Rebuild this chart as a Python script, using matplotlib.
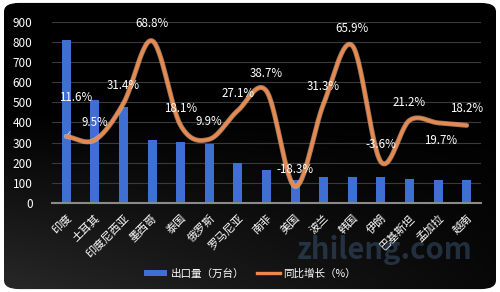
import numpy as np
import matplotlib
matplotlib.use("Agg")
import matplotlib.pyplot as plt
from matplotlib.patches import FancyBboxPatch, Patch
from matplotlib.lines import Line2D

plt.rcParams['font.family'] = ['Noto Sans CJK SC', 'DejaVu Sans']

# ------------------------
# Data
# ------------------------
countries = ["印度", "土耳其", "印度尼西亚", "墨西哥", "泰国", "俄罗斯", "罗马尼亚",
             "南非", "美国", "波兰", "韩国", "伊朗", "巴基斯坦", "孟加拉", "越南"]
exports = [810, 512, 478, 315, 302, 293, 200, 163, 112, 130, 130, 127, 121, 113, 112]
growth = [11.6, 9.5, 31.4, 68.8, 18.1, 9.9, 27.1, 38.7, -18.3, 31.3, 65.9, -3.6, 21.2, 19.7, 18.2]

BAR_COLOR = "#3F6FD2"
LINE_COLOR = "#E8894F"


def catmull_rom(x, y, n=30):
    """Smooth curve through the points (like a spreadsheet 'smoothed line')."""
    x = np.asarray(x, float)
    y = np.asarray(y, float)
    px = np.concatenate([[2 * x[0] - x[1]], x, [2 * x[-1] - x[-2]]])
    py = np.concatenate([[2 * y[0] - y[1]], y, [2 * y[-1] - y[-2]]])
    xs, ys = [], []
    t = np.linspace(0, 1, n, endpoint=False)
    for i in range(1, len(px) - 2):
        for arr, out in ((px, xs), (py, ys)):
            p0, p1, p2, p3 = arr[i - 1], arr[i], arr[i + 1], arr[i + 2]
            out.extend(0.5 * ((2 * p1) + (-p0 + p2) * t
                              + (2 * p0 - 5 * p1 + 4 * p2 - p3) * t ** 2
                              + (-p0 + 3 * p1 - 3 * p2 + p3) * t ** 3))
    xs.append(x[-1])
    ys.append(y[-1])
    return np.array(xs), np.array(ys)


fig = plt.figure(figsize=(5, 2.92), dpi=100)
fig.patch.set_facecolor("white")

# rounded dark card with a soft gradient
bg = fig.add_axes([0, 0, 1, 1], zorder=-5)
bg.set_axis_off()
bg.set_xlim(0, 1)
bg.set_ylim(0, 1)
gy, gx = np.mgrid[0:1:200j, 0:1:200j]
shade = 0.16 * np.clip(1 - gy * 1.6, 0, 1) * np.clip(1 - gx * 0.8, 0, 1)
img = bg.imshow(np.dstack([shade, shade, shade]), extent=[0, 1, 0, 1],
                origin="lower", aspect="auto")
card = FancyBboxPatch((0.008, 0.01), 0.984, 0.98,
                      boxstyle="round,pad=0,rounding_size=0.03",
                      transform=bg.transAxes, facecolor="none", edgecolor="none")
bg.add_patch(card)
img.set_clip_path(card)

ax = fig.add_axes([0.104, 0.305, 0.858, 0.62])
ax.set_facecolor("none")
x = np.arange(len(countries))
ax.bar(x, exports, width=0.32, color=BAR_COLOR, zorder=2)
ax.set_xlim(-0.5, len(countries) - 0.5)
ax.set_ylim(0, 900)
ax.set_yticks(range(0, 901, 100))
ax.grid(axis="y", color="#3a3a3a", linewidth=0.8, zorder=0)
for s in ["top", "right", "left"]:
    ax.spines[s].set_visible(False)
ax.spines["bottom"].set_color("#8a8a8a")
ax.spines["bottom"].set_linewidth(1.5)
ax.tick_params(axis="both", length=0, colors="white")
ax.tick_params(axis="y", labelsize=8.5, pad=14)
ax.tick_params(axis="x", pad=7)
ax.set_xticks(x)
ax.set_xticklabels(countries, rotation=45, ha="right", rotation_mode="anchor",
                   fontsize=8, color="white")

# growth on a hidden secondary axis
ax2 = ax.twinx()
ax2.set_ylim(-28.2, 80.1)
ax2.set_axis_off()
sx, sy = catmull_rom(x, growth)
ax2.plot(sx, sy, color="#F4C3A2", linewidth=3.6, alpha=0.6, zorder=3,
         solid_capstyle="round")
ax2.plot(sx, sy, color=LINE_COLOR, linewidth=2.4, zorder=4, solid_capstyle="round")

for i, g in enumerate(growth):
    dx, dy = 0, 12.5
    if i == 0:
        dx, dy = 7, 28
        ax2.annotate("", xy=(i, g), xytext=(i + 0.2, g + 4.3),
                     arrowprops=dict(arrowstyle="-", color="#cfcfcf", lw=0.7))
    elif i == 13:
        dx, dy = 1.5, -12.5
    ax2.annotate(f"{g}%", xy=(i, g), xytext=(dx, dy), textcoords="offset points",
                 ha="center", va="center", color="white", fontsize=8.3, zorder=5)

handles = [Patch(facecolor=BAR_COLOR), Line2D([], [], color=LINE_COLOR, lw=2.4)]
fig.legend(handles, ["出口量（万台）", "同比增长（%）"], loc="center",
           bbox_to_anchor=(0.5, 0.064), ncol=2, frameon=False, fontsize=7.6,
           labelcolor="white", handlelength=2.2, handleheight=0.45,
           columnspacing=1.2, handletextpad=0.3)

fig.text(0.77, 0.145, "zhileng.com", fontsize=21, fontweight="bold",
         color="#5a86b8", alpha=0.3, ha="center", va="center")

fig.savefig("out.png", dpi=100, facecolor=fig.get_facecolor())
